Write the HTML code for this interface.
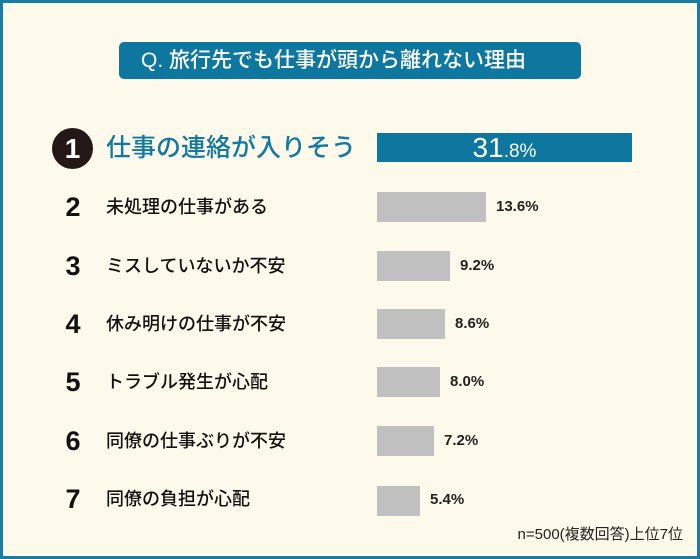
<!DOCTYPE html>
<html><head><meta charset="utf-8"><style>
*{margin:0;padding:0;box-sizing:border-box}
body{width:700px;height:559px;background:#fdfaec;position:relative;overflow:hidden;font-family:"Liberation Sans","Noto Sans CJK JP",sans-serif}
.frame{position:absolute;left:0;top:0;width:700px;height:559px;border:3px solid #1a7ca2}
.title{position:absolute;left:119px;top:42px;width:462px;height:37px;background:#0e77a0;border-radius:5px;color:#fff;font-size:21px;line-height:37px;padding-left:22px;font-weight:500}
.num{position:absolute;left:62px;font-size:27px;font-weight:bold;color:#111;width:22px;text-align:center}
.lab{position:absolute;left:106px;font-size:18px;color:#111;font-weight:500}
.bar{position:absolute;left:377px;height:30px;background:#c0c0c0}
.pct{position:absolute;font-size:15px;font-weight:bold;color:#222}
</style></head><body>
<div class="frame"></div>
<div class="title">Q. 旅行先でも仕事が頭から離れない理由</div>
<div style="position:absolute;left:52px;top:128px;width:41px;height:41px;border-radius:50%;background:#231815;color:#fff;font-size:28px;font-weight:bold;text-align:center;line-height:41px">1</div>
<div style="position:absolute;left:106px;top:131px;font-size:25px;color:#1179a3;font-weight:500;line-height:34px">仕事の連絡が入りそう</div>
<div style="position:absolute;left:377px;top:133px;width:255px;height:29px;background:#0d77a0;color:#fff;text-align:center;line-height:29px;font-size:28px">31<span style="font-size:19px">.8%</span></div>

<div class="num" style="top:192px;line-height:30px">2</div><div class="lab" style="top:192px;line-height:30px">未処理の仕事がある</div>
<div class="bar" style="top:192px;width:109px"></div><div class="pct" style="left:496px;top:192px;line-height:30px">13.6%</div>

<div class="num" style="top:251px;line-height:30px">3</div><div class="lab" style="top:251px;line-height:30px">ミスしていないか不安</div>
<div class="bar" style="top:251px;width:73px"></div><div class="pct" style="left:460px;top:251px;line-height:30px">9.2%</div>

<div class="num" style="top:309px;line-height:30px">4</div><div class="lab" style="top:309px;line-height:30px">休み明けの仕事が不安</div>
<div class="bar" style="top:309px;width:68px"></div><div class="pct" style="left:455px;top:309px;line-height:30px">8.6%</div>

<div class="num" style="top:367px;line-height:30px">5</div><div class="lab" style="top:367px;line-height:30px">トラブル発生が心配</div>
<div class="bar" style="top:367px;width:63px"></div><div class="pct" style="left:450px;top:367px;line-height:30px">8.0%</div>

<div class="num" style="top:426px;line-height:30px">6</div><div class="lab" style="top:426px;line-height:30px">同僚の仕事ぶりが不安</div>
<div class="bar" style="top:426px;width:57px"></div><div class="pct" style="left:444px;top:426px;line-height:30px">7.2%</div>

<div class="num" style="top:484px;line-height:30px">7</div><div class="lab" style="top:484px;line-height:30px">同僚の負担が心配</div>
<div class="bar" style="top:486px;width:43px"></div><div class="pct" style="left:430px;top:485px;line-height:30px">5.4%</div>

<div style="position:absolute;right:17px;top:523px;font-size:15px;color:#222">n=500(複数回答)上位7位</div>
</body></html>
